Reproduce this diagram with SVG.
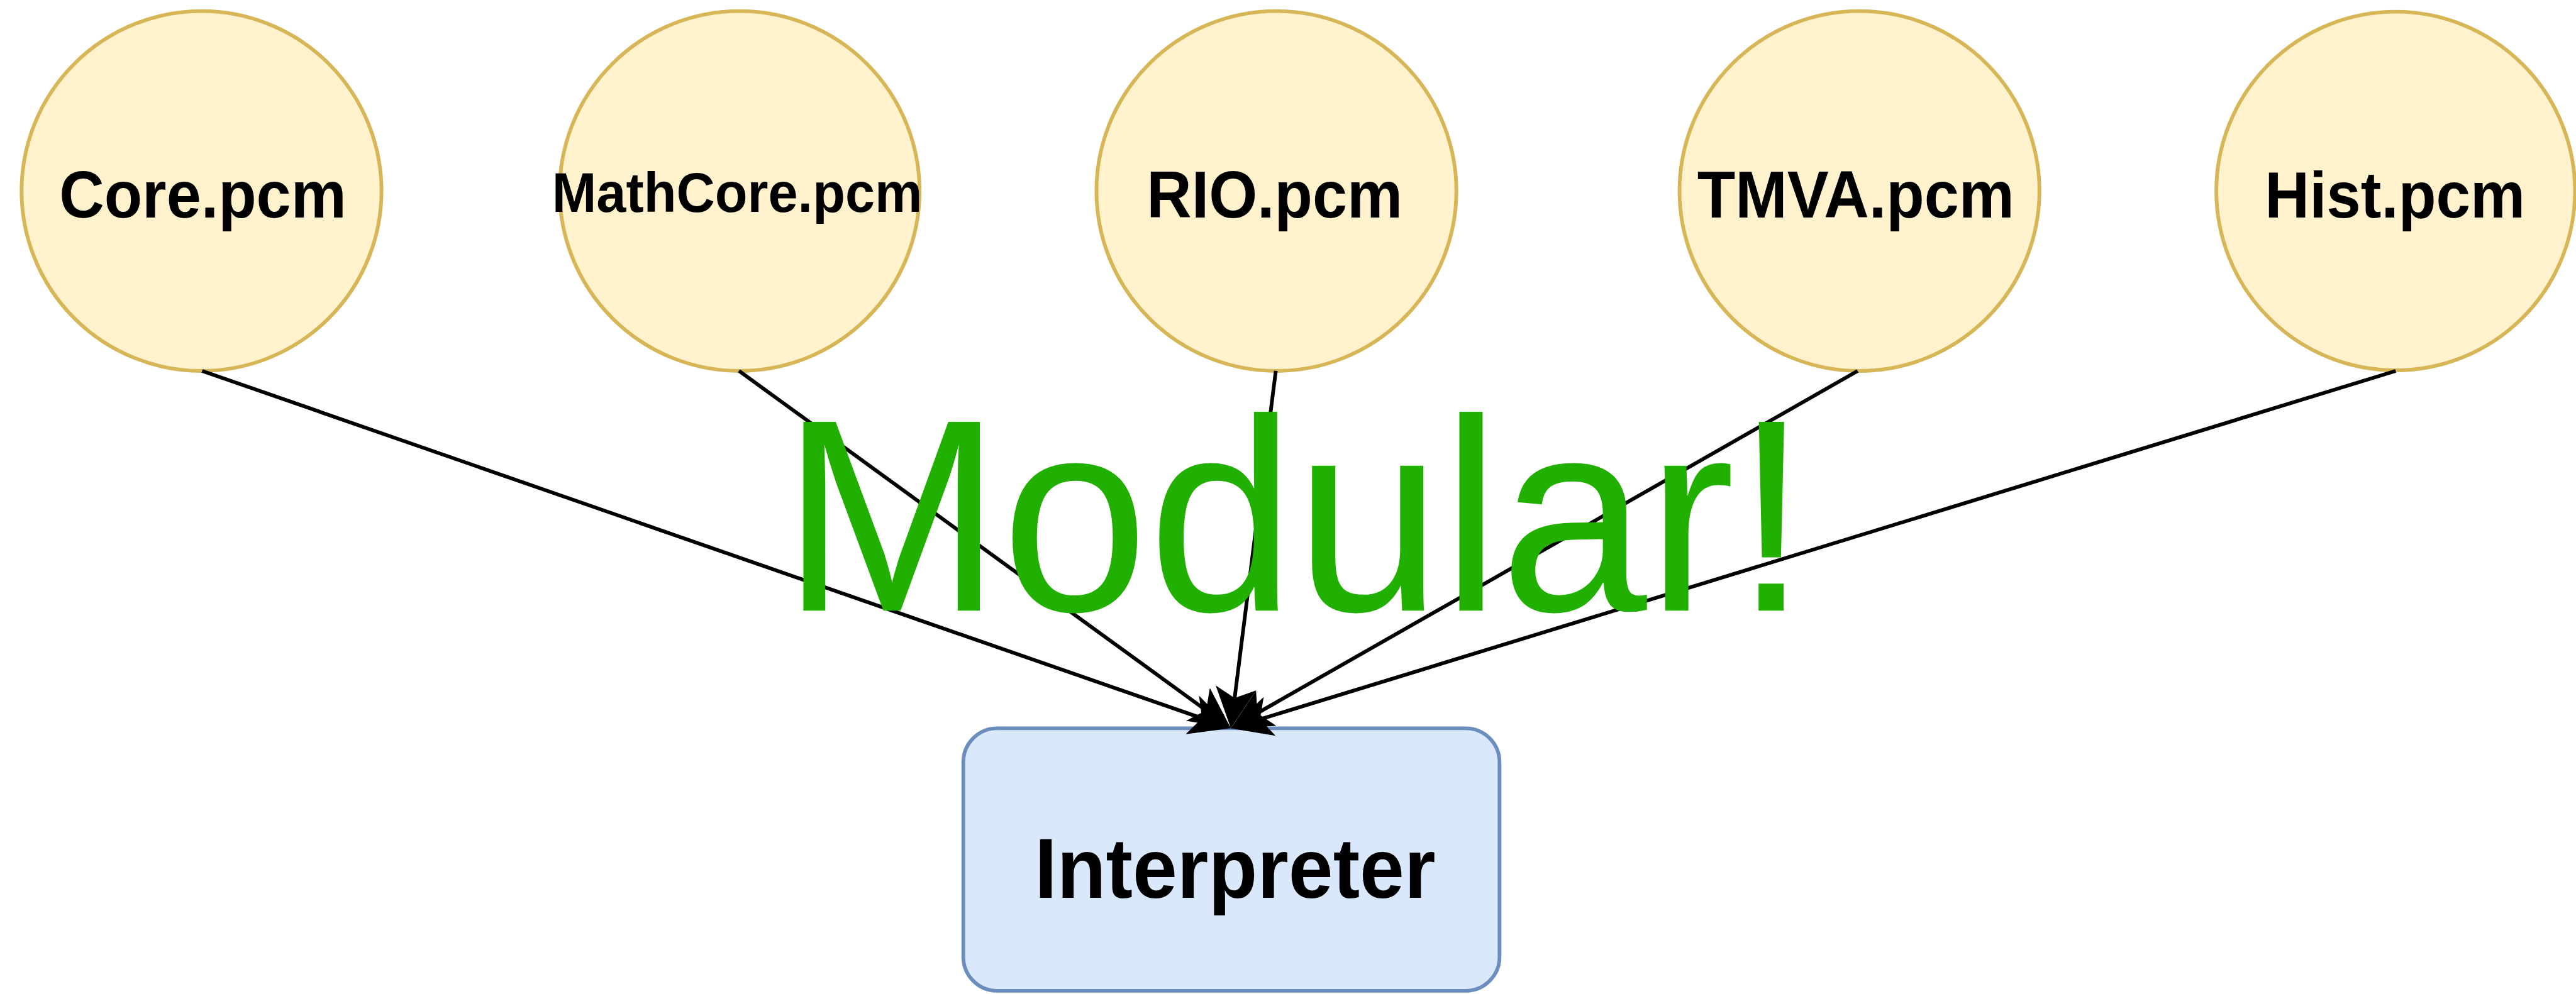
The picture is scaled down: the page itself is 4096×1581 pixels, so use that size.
<svg xmlns="http://www.w3.org/2000/svg" width="4096" height="1581" viewBox="0 0 4096 1581">
<style>
.pcm{fill:#fff2cc;stroke:#d6b656;stroke-width:6}
.lbl{font-family:"Liberation Sans",Arial,Helvetica,sans-serif;font-weight:bold;fill:#000;text-anchor:middle}
.box{fill:#dae8fc;stroke:#6c8ebf;stroke-width:6}
.edge{fill:none;stroke:#000;stroke-width:6}
.big{font-family:"Liberation Sans",Arial,Helvetica,sans-serif;fill:#22b000;text-anchor:middle}
</style>
<defs>
<marker id="arrow" markerUnits="userSpaceOnUse" markerWidth="66" markerHeight="66" viewBox="0 0 66 66" refX="16.5" refY="33" orient="auto">
<path d="M0,0 L66,33 L0,66 L16.5,33 Z" fill="#000"/>
</marker>
</defs>
<rect width="4096" height="1581" fill="#fff"/>
<g transform="scale(0.98)">
<g id="core">
<circle class="pcm" cx="327" cy="310" r="292"/>
<text class="lbl" transform="translate(329,353) scale(1,1.06)" font-size="101">Core.pcm</text>
</g>
<g id="mathcore">
<circle class="pcm" cx="1200" cy="310" r="292"/>
<text class="lbl" transform="translate(1196,344) scale(1,1.06)" font-size="86.5">MathCore.pcm</text>
</g>
<g id="rio">
<circle class="pcm" cx="2071" cy="310" r="292"/>
<text class="lbl" transform="translate(2068,353) scale(1,1.06)" font-size="101">RIO.pcm</text>
</g>
<g id="tmva">
<circle class="pcm" cx="3017" cy="310" r="292"/>
<text class="lbl" transform="translate(3011,353) scale(1,1.06)" font-size="101">TMVA.pcm</text>
</g>
<g id="hist">
<circle class="pcm" cx="3887" cy="310" r="291"/>
<text class="lbl" transform="translate(3886,353) scale(1,1.06)" font-size="100">Hist.pcm</text>
</g>
<g id="interpreter">
<rect class="box" x="1563" y="1182" width="870" height="426" rx="55" ry="55"/>
<text class="lbl" transform="translate(2004,1457) scale(1,1.06)" font-size="130">Interpreter</text>
</g>
<g id="connectors">
<line class="edge" x1="328" y1="602" x2="1950.2" y2="1165.7" marker-end="url(#arrow)"/>
<line class="edge" x1="1199" y1="602" x2="1957" y2="1152.9" marker-end="url(#arrow)"/>
<line class="edge" x1="2070" y1="602" x2="2003.2" y2="1132.9" marker-end="url(#arrow)"/>
<line class="edge" x1="3014" y1="602" x2="2040" y2="1157.5" marker-end="url(#arrow)"/>
<line class="edge" x1="3887" y1="602" x2="2044.3" y2="1167.5" marker-end="url(#arrow)"/>
</g>
<g id="modular">
<text class="big" transform="translate(2101,991) scale(1,1.04)" font-size="428">Modular!</text>
</g>
</g>
</svg>
